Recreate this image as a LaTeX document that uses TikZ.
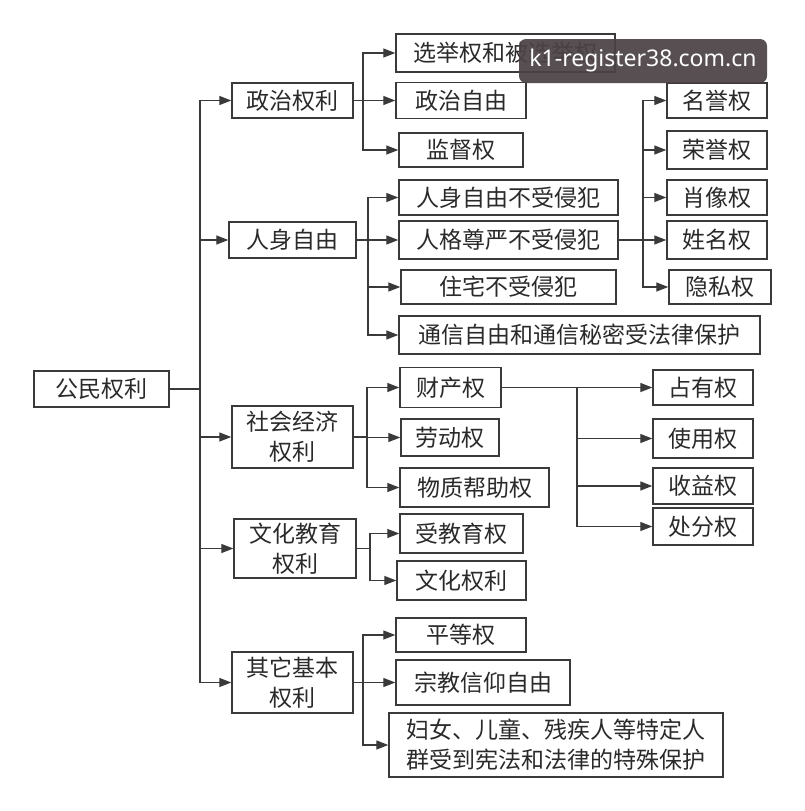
\documentclass[tikz,border=0pt]{standalone}
\usepackage{fontspec}
\newfontfamily\cjk{Noto Sans CJK SC}
\newfontfamily\wmfont{Noto Sans}
\usepackage{tikz}
\usetikzlibrary{arrows.meta}
\definecolor{linegray}{HTML}{3A3A3A}
\definecolor{textgray}{HTML}{2A2A2A}
\definecolor{wmgray}{HTML}{4B4245}

\begin{document}
\begin{tikzpicture}[x=1pt, y=-1pt, >={Triangle[length=12pt,width=9pt]},
	box/.style={draw=linegray, line width=1.4pt, inner sep=0pt, align=center,
		text=textgray, font=\cjk\fontsize{23}{30}\selectfont},
	line/.style={draw=linegray, line width=1.3pt},
	arr/.style={line, ->},
	wmark/.style={fill=wmgray, fill opacity=0.93, text opacity=1, text=white,
		rounded corners=7pt, inner sep=0pt, font=\wmfont\fontsize{23}{26}\selectfont}]
		
		\fill[white] (0,0) rectangle (805,811);
		\useasboundingbox (0,0) rectangle (805,811);
		
		% Root and first level
		\node[box, minimum width=135, minimum height=36] (gm) at (101.5,389) {公民权利};
		\node[box, minimum width=121, minimum height=35] (zz) at (292.5,100.5) {政治权利};
		\node[box, minimum width=127, minimum height=36] (rs) at (292.5,240) {人身自由};
		\node[box, minimum width=121, minimum height=62] (sh) at (292.5,437) {社会经济\\权利};
		\node[box, minimum width=122, minimum height=59] (wh) at (295,548.5) {文化教育\\权利};
		\node[box, minimum width=121, minimum height=61] (qt) at (292.5,682.5) {其它基本\\权利};
		
		\coordinate (gmj) at (200,389);
		\draw[line] (gm.east) -- (gmj);
		\foreach \c in {zz,rs,sh,wh,qt}
			\draw[arr] (gmj) |- (\c.west);
		
		% Political rights
		\node[box, minimum width=219, minimum height=38] (xj) at (505.5,53) {选举权和被选举权};
		\node[box, minimum width=130, minimum height=36] (zy) at (461,100.5) {政治自由};
		\node[box, minimum width=124, minimum height=34] (jd) at (461,150) {监督权};
		
		\coordinate (zzj) at (363,100.5);
		\draw[line] (zz.east) -- (zzj);
		\foreach \c in {xj,zy,jd}
			\draw[arr] (zzj) |- (\c.west);
		
		% Personal freedom
		\node[box, minimum width=219, minimum height=35] (rz) at (508.5,197.5) {人身自由不受侵犯};
		\node[box, minimum width=219, minimum height=38] (rg) at (508.5,240) {人格尊严不受侵犯};
		\node[box, minimum width=215, minimum height=34] (zd) at (508.5,287) {住宅不受侵犯};
		\node[box, minimum width=361, minimum height=38] (tx) at (579.5,335) {通信自由和通信秘密受法律保护};
		
		\coordinate (rsj) at (368,240);
		\draw[line] (rs.east) -- (rsj);
		\foreach \c in {rz,rg,zd,tx}
			\draw[arr] (rsj) |- (\c.west);
		
		% Personal dignity
		\node[box, minimum width=100, minimum height=35] (my) at (717,100.5) {名誉权};
		\node[box, minimum width=100, minimum height=38] (ry) at (717,150) {荣誉权};
		\node[box, minimum width=100, minimum height=35] (xx) at (717,197.5) {肖像权};
		\node[box, minimum width=100, minimum height=38] (xm) at (717,240) {姓名权};
		\node[box, minimum width=102, minimum height=34] (ys) at (720,287) {隐私权};
		
		\coordinate (rgj) at (643,240);
		\draw[line] (rg.east) -- (rgj);
		\foreach \c in {my,ry,xx,xm,ys}
			\draw[arr] (rgj) |- (\c.west);
		
		% Social and economic rights
		\node[box, minimum width=101, minimum height=40] (cc) at (450.5,387.5) {财产权};
		\node[box, minimum width=98, minimum height=37] (ld) at (450,437.5) {劳动权};
		\node[box, minimum width=149, minimum height=39] (wz) at (474.5,487.5) {物质帮助权};
		
		\coordinate (shj) at (367,437);
		\draw[line] (sh.east) -- (shj);
		\foreach \c in {cc,ld,wz}
			\draw[arr] (shj) |- (\c.west);
		
		% Property
		\node[box, minimum width=100, minimum height=35] (zh) at (703,387.5) {占有权};
		\node[box, minimum width=100, minimum height=39] (sy) at (703,438.5) {使用权};
		\node[box, minimum width=100, minimum height=36] (sg) at (703,486) {收益权};
		\node[box, minimum width=100, minimum height=37] (cf) at (703,526.5) {处分权};
		
		\coordinate (ccj) at (577,387.5);
		\draw[arr] (cc.east) -- (zh.west);
		\foreach \c in {sy,sg,cf}
			\draw[arr] (ccj) |- (\c.west);
		
		% Culture and education
		\node[box, minimum width=123, minimum height=39] (sj) at (461.5,533.5) {受教育权};
		\node[box, minimum width=129, minimum height=39] (wq) at (461.5,580.5) {文化权利};
		
		\coordinate (whj) at (370,548.5);
		\draw[line] (wh.east) -- (whj);
		\foreach \c in {sj,wq}
			\draw[arr] (whj) |- (\c.west);
		
		% Other basic rights
		\node[box, minimum width=130, minimum height=34] (pd) at (461,635) {平等权};
		\node[box, minimum width=174, minimum height=45] (zj) at (483,682.5) {宗教信仰自由};
		\node[box, minimum width=334, minimum height=64] (fn) at (556,745) {妇女、儿童、残疾人等特定人\\群受到宪法和法律的特殊保护};
		
		\coordinate (qtj) at (363,682.5);
		\draw[line] (qt.east) -- (qtj);
		\foreach \c in {pd,zj,fn}
			\draw[arr] (qtj) |- (\c.west);
		
		% Watermark
		\node[wmark, minimum width=248, minimum height=44] (wm) at (643,61) {k1-register38.com.cn};
		
	\end{tikzpicture}
\end{document}
